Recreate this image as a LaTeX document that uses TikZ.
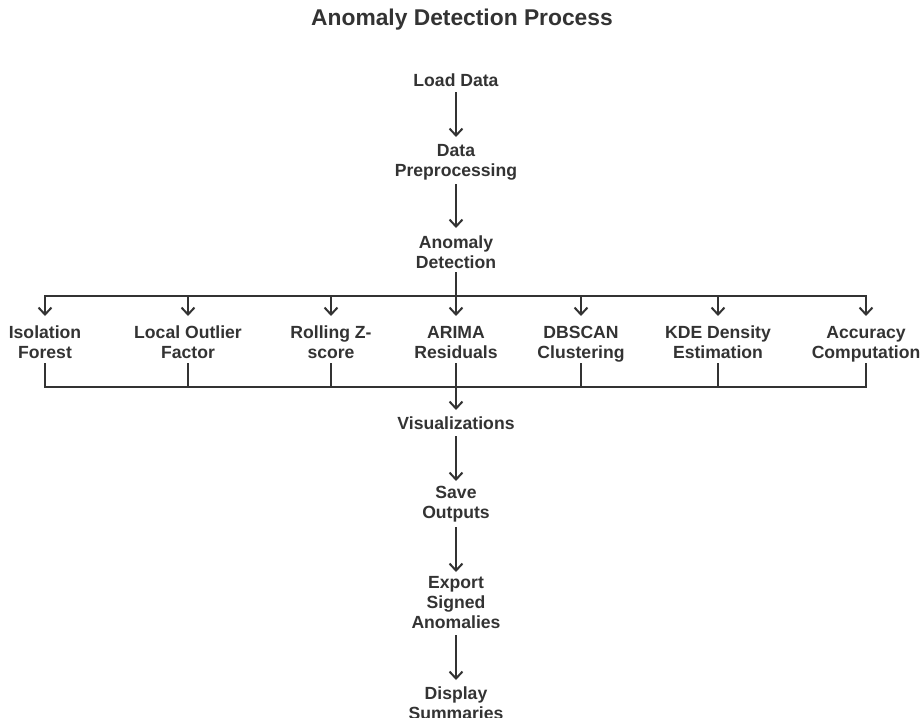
\documentclass[tikz,border=0pt]{standalone}
\usepackage{fontspec}
\setmainfont{Liberation Sans}
\usetikzlibrary{arrows.meta}
\definecolor{ink}{HTML}{333333}
\begin{document}
\begin{tikzpicture}[x=1pt,y=-1pt,
  lbl/.style={font=\fontsize{17.6}{20}\selectfont\bfseries, text=ink, align=center, inner sep=0pt},
  ttl/.style={font=\fontsize{22.8}{26}\selectfont\bfseries, text=ink, inner sep=0pt},
  flow/.style={draw=ink, line width=2pt, -{Straight Barb[length=7pt,width=13pt,line width=2pt]}},
  link/.style={draw=ink, line width=2pt}]
\useasboundingbox (0,0) rectangle (923,717);
% title
\node[ttl] (title) at (462,20) {Anomaly Detection Process};
% main flow
\node[lbl] (load) at (456,80) {Load Data};
\node[lbl] (prep) at (456,162) {Data\\Preprocessing};
\node[lbl] (anom) at (456,252) {Anomaly\\Detection};
% branches
\node[lbl, anchor=north] (iso) at (45,326) {Isolation\\Forest};
\node[lbl, anchor=north] (lof) at (188,326) {Local Outlier\\Factor};
\node[lbl, anchor=north] (roll) at (331,326) {Rolling Z-\\score};
\node[lbl, anchor=north] (arima) at (456,326) {ARIMA\\Residuals};
\node[lbl, anchor=north] (dbscan) at (581,326) {DBSCAN\\Clustering};
\node[lbl, anchor=north] (kde) at (718,326) {KDE Density\\Estimation};
\node[lbl, anchor=north] (acc) at (866,326) {Accuracy\\Computation};
% lower flow
\node[lbl] (vis) at (456,423) {Visualizations};
\node[lbl] (save) at (456,504) {Save\\Outputs};
\node[lbl] (export) at (456,603) {Export\\Signed\\Anomalies};
\node[lbl] (disp) at (456,703) {Display\\Summaries};
% bus coordinates
\coordinate (busA) at (456,296);
\coordinate (busB) at (456,387);
% connectors
\draw[flow] ([yshift=-12pt]load.center) -- ([yshift=25pt]prep.center);
\draw[flow] ([yshift=-22pt]prep.center) -- ([yshift=24pt]anom.center);
\draw[link] ([yshift=-20pt]anom.center) -- (busA);
\foreach \n in {iso,lof,roll,arima,dbscan,kde,acc}{
  \draw[flow] (busA) -| ([yshift=10pt]\n.north);
}
\foreach \n in {iso,lof,roll,dbscan,kde,acc}{
  \draw[link] ([yshift=-37pt]\n.north) |- (busB);
}
\draw[flow] ([yshift=-37pt]arima.north) -- ([yshift=13pt]vis.center);
\draw[flow] ([yshift=-13pt]vis.center) -- ([yshift=23pt]save.center);
\draw[flow] ([yshift=-23pt]save.center) -- ([yshift=31pt]export.center);
\draw[flow] ([yshift=-32pt]export.center) -- ([yshift=23pt]disp.center);
\end{tikzpicture}
\end{document}
